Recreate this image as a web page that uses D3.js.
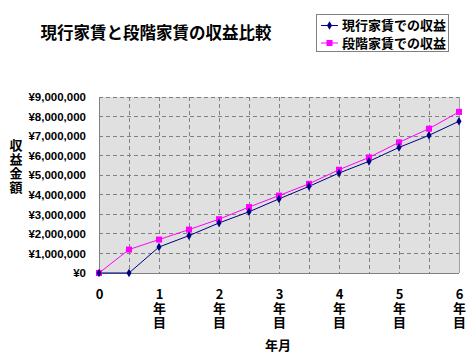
<!DOCTYPE html>
<html><head><meta charset="utf-8">
<script src="https://cdn.jsdelivr.net/npm/d3@7"></script>
<style>body{margin:0;background:#fff}svg{display:block}text{font-family:"Noto Sans CJK JP","Liberation Sans",sans-serif}</style>
</head><body><svg id="c" width="470" height="362"></svg>
<script>
const years = [0, 0.5, 1, 1.5, 2, 2.5, 3, 3.5, 4, 4.5, 5, 5.5, 6];
const currentRent = [0, 0, 1330000, 1910000, 2560000, 3130000, 3790000, 4430000, 5110000, 5710000, 6420000, 7040000, 7760000];
const steppedRent = [0, 1200000, 1710000, 2220000, 2750000, 3370000, 3960000, 4560000, 5280000, 5910000, 6680000, 7380000, 8240000];
const xTickValues = [0, 1, 2, 3, 4, 5, 6];
const xTickLabels = ["0", "1年目", "2年目", "3年目", "4年目", "5年目", "6年目"];
const yTicks = [0, 1000000, 2000000, 3000000, 4000000, 5000000, 6000000, 7000000, 8000000, 9000000];
const seriesNames = ["現行家賃での収益", "段階家賃での収益"];
const title = "現行家賃と段階家賃の収益比較";
const yTitle = "収益金額";
const xTitle = "年月";

const svg = d3.select("#c");
const L = 99, R = 459, T = 97, B = 273;
const x = d3.scaleLinear().domain([0, 6]).range([L, R]);
const y = d3.scaleLinear().domain([0, 9000000]).range([B, T]);

svg.append("rect").attr("x", L).attr("y", T).attr("width", R - L).attr("height", B - T).attr("fill", "#e0e0e0");
// grid
svg.append("g").selectAll("line").data(yTicks.slice(1)).join("line")
  .attr("x1", L).attr("x2", R).attr("y1", d => y(d)).attr("y2", d => y(d))
  .attr("stroke", "#808080").attr("stroke-dasharray", "4,3").attr("stroke-width", 1).attr("shape-rendering", "crispEdges");
svg.append("g").selectAll("line").data(years.slice(1, -1)).join("line")
  .attr("x1", d => x(d)).attr("x2", d => x(d)).attr("y1", T).attr("y2", B)
  .attr("stroke", "#808080").attr("stroke-dasharray", "4,3").attr("stroke-width", 1).attr("shape-rendering", "crispEdges");
// border
svg.append("line").attr("x1", R).attr("x2", R).attr("y1", T).attr("y2", B).attr("stroke", "#a0a0a0").attr("shape-rendering", "crispEdges");
svg.append("line").attr("x1", L).attr("x2", L).attr("y1", T).attr("y2", B).attr("stroke", "#808080").attr("shape-rendering", "crispEdges");
svg.append("line").attr("x1", L).attr("x2", R).attr("y1", B).attr("y2", B).attr("stroke", "#808080").attr("shape-rendering", "crispEdges");

// y axis
const yAxis = d3.axisLeft(y).tickValues(yTicks).tickSize(0).tickPadding(13)
  .tickFormat(d => "¥" + d3.format(",")(d));
const gy = svg.append("g").attr("transform", `translate(${L},0)`).call(yAxis);
gy.select(".domain").remove();
gy.selectAll("text").attr("font-size", "11.5px").attr("font-weight", "bold").attr("fill", "#000")
  .style("font-family", "'Liberation Sans',Arial,sans-serif");

// x axis
const xAxis = d3.axisBottom(x).tickValues(xTickValues).tickSize(0).tickPadding(0).tickFormat("");
const gx = svg.append("g").attr("transform", `translate(0,${B})`).call(xAxis);
gx.select(".domain").remove();
gx.selectAll(".tick").each(function(d, i) {
  const g = d3.select(this);
  Array.from(xTickLabels[i]).forEach((ch, j) => {
    g.append("text").attr("x", 0).attr("y", 25.5 + j * 14).attr("text-anchor", "middle")
      .attr("font-size", "13px").attr("font-weight", "bold").attr("fill", "#000").text(ch);
  });
});

// lines
const line = d3.line().x((d, i) => x(years[i])).y(d => y(d));
svg.append("path").datum(steppedRent).attr("d", line).attr("fill", "none").attr("stroke", "#ff00ff").attr("stroke-width", 1);
svg.append("path").datum(currentRent).attr("d", line).attr("fill", "none").attr("stroke", "#000080").attr("stroke-width", 1);
svg.append("g").selectAll("rect").data(steppedRent).join("rect")
  .attr("x", (d, i) => x(years[i]) - 3).attr("y", d => y(d) - 3).attr("width", 6).attr("height", 6).attr("fill", "#ff00ff");
svg.append("g").selectAll("path").data(currentRent).join("path")
  .attr("transform", (d, i) => `translate(${x(years[i])},${y(d)})`)
  .attr("d", d3.symbol(d3.symbolDiamond, 22)).attr("fill", "#000080");

// title
svg.append("text").attr("x", 156).attr("y", 39).attr("text-anchor", "middle")
  .attr("font-size", "16.5px").attr("font-weight", "bold").attr("fill", "#000").text(title);

// y title
Array.from(yTitle).forEach((ch, j) => {
  svg.append("text").attr("x", 16).attr("y", 150 + j * 14).attr("text-anchor", "middle")
    .attr("font-size", "13px").attr("font-weight", "bold").attr("fill", "#000").text(ch);
});
// x title
svg.append("text").attr("x", 278).attr("y", 350).attr("text-anchor", "middle")
  .attr("font-size", "13px").attr("font-weight", "bold").attr("fill", "#000").text(xTitle);

// legend
const lg = svg.append("g");
lg.append("rect").attr("x", 316.5).attr("y", 14.5).attr("width", 132).attr("height", 37).attr("fill", "#fff").attr("stroke", "#808080");
const colors = ["#000080", "#ff00ff"];
seriesNames.forEach((n, i) => {
  const cy = 25.5 + i * 17.5;
  lg.append("line").attr("x1", 321).attr("x2", 338).attr("y1", cy).attr("y2", cy).attr("stroke", colors[i]);
  if (i === 0) lg.append("path").attr("transform", `translate(329.5,${cy})`).attr("d", d3.symbol(d3.symbolDiamond, 22)).attr("fill", colors[i]);
  else lg.append("rect").attr("x", 326.5).attr("y", cy - 3).attr("width", 6).attr("height", 6).attr("fill", colors[i]);
  lg.append("text").attr("x", 342).attr("y", cy + 4.5).attr("font-size", "13px").attr("font-weight", "bold").attr("fill", "#000").text(n);
});
</script></body></html>
